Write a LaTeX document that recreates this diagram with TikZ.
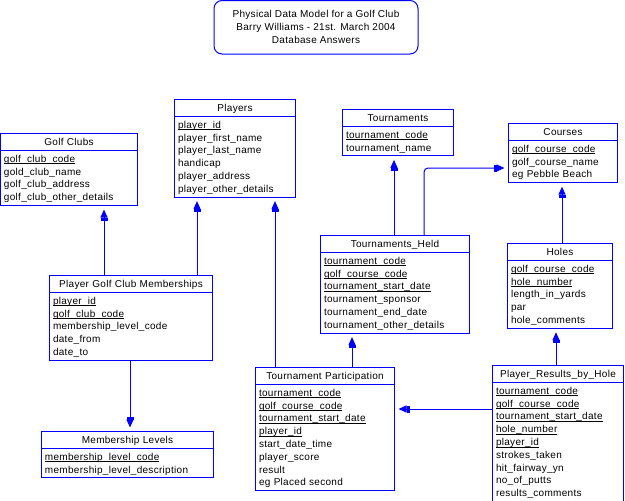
\documentclass[tikz,border=0pt]{standalone}
\usepackage{fontspec}
\setmainfont{Liberation Sans}[LetterSpace=3.0]
\usetikzlibrary{arrows.meta,shapes.multipart}
\definecolor{erblue}{RGB}{0,0,255}
%Zeilenhoehe der Tabellen
\newcommand{\rw}{\rule[-2.9pt]{0pt}{12.8pt}}
%Unterstreichung auf Hoehe der Unterstriche
\newsavebox{\pkbox}
\newcommand{\pk}[1]{\sbox{\pkbox}{#1}\rlap{\rule[-2pt]{\wd\pkbox}{0.8pt}}\usebox{\pkbox}}
\newcommand{\hd}[1]{\hfill\rw #1\hfill\rw}
\tikzset{
  entity/.style={rectangle split, rectangle split parts=2, draw=erblue, line width=1pt,
    anchor=north west, inner xsep=3.5pt, inner ysep=1.5pt, align=left,
    font=\fontsize{10}{12.8}\selectfont},
  fk/.style={draw=erblue, line width=1pt, shorten >=3.5pt,
    -{Rectangle[width=7pt,length=3pt]Triangle[width=7pt,length=8pt]}},
  titlebox/.style={draw=erblue, line width=1pt, rounded corners=8pt, align=center,
    minimum width=204pt, minimum height=53.5pt, font=\fontsize{10}{13}\selectfont}
}
\begin{document}
\begin{tikzpicture}[x=1pt,y=-1pt]
\useasboundingbox (0,0) rectangle (625,501);
\node[titlebox] (title) at (316,27.25) {Physical Data Model for a Golf Club\\Barry Williams - 21st. March 2004\\Database Answers};
%Tabellen
\node[entity, text width=130pt] (golfclubs) at (0,133) {\hd{Golf Clubs}
  \nodepart{two}\rw\pk{golf\_club\_code}\\\rw gold\_club\_name\\\rw golf\_club\_address\\\rw golf\_club\_other\_details};
\node[entity, text width=114pt] (players) at (174,99) {\hd{Players}
  \nodepart{two}\rw\pk{player\_id}\\\rw player\_first\_name\\\rw player\_last\_name\\\rw handicap\\\rw player\_address\\\rw player\_other\_details};
\node[entity, text width=104pt] (tournaments) at (342,109) {\hd{Tournaments}
  \nodepart{two}\rw\pk{tournament\_code}\\\rw tournament\_name};
\node[entity, text width=102pt] (courses) at (508,123) {\hd{Courses}
  \nodepart{two}\rw\pk{golf\_course\_code}\\\rw golf\_course\_name\\\rw eg Pebble Beach};
\node[entity, text width=142pt] (tournheld) at (320,235) {\hd{Tournaments\_Held}
  \nodepart{two}\rw\pk{tournament\_code}\\\rw\pk{golf\_course\_code}\\\rw\pk{tournament\_start\_date}\\\rw tournament\_sponsor\\\rw tournament\_end\_date\\\rw tournament\_other\_details};
\node[entity, text width=98pt] (holes) at (507,243) {\hd{Holes}
  \nodepart{two}\rw\pk{golf\_course\_code}\\\rw\pk{hole\_number}\\\rw length\_in\_yards\\\rw par\\\rw hole\_comments};
\node[entity, text width=156pt] (memberships) at (49,275) {\hd{Player Golf Club Memberships}
  \nodepart{two}\rw\pk{player\_id}\\\rw\pk{golf\_club\_code}\\\rw membership\_level\_code\\\rw date\_from\\\rw date\_to};
\node[entity, text width=165pt] (levels) at (41,431) {\hd{Membership Levels}
  \nodepart{two}\rw\pk{membership\_level\_code}\\\rw membership\_level\_description};
\node[entity, text width=132pt] (tournpart) at (255,367) {\hd{Tournament Participation}
  \nodepart{two}\rw\pk{tournament\_code}\\\rw\pk{golf\_course\_code}\\\rw\pk{tournament\_start\_date}\\\rw\pk{player\_id}\\\rw start\_date\_time\\\rw player\_score\\\rw result\\\rw eg Placed second};
\node[entity, text width=124pt] (results) at (492,365) {\hd{Player\_Results\_by\_Hole}
  \nodepart{two}\rw\pk{tournament\_code}\\\rw\pk{golf\_course\_code}\\\rw\pk{tournament\_start\_date}\\\rw\pk{hole\_number}\\\rw\pk{player\_id}\\\rw strokes\_taken\\\rw hit\_fairway\_yn\\\rw no\_of\_putts\\\rw results\_comments};
%Beziehungen
\draw[fk] (memberships.north -| 104,0) -- (golfclubs.south -| 104,0);
\draw[fk] (memberships.north -| 197,0) -- (players.south -| 197,0);
\draw[fk] (tournpart.north -| 275,0) -- (players.south -| 275,0);
\draw[fk] (memberships.south -| 130,0) -- (levels.north -| 130,0);
\draw[fk] (tournheld.north -| 394,0) -- (tournaments.south -| 394,0);
\draw[fk, rounded corners=4pt] (tournheld.north -| 424,0) |- (courses.west |- 0,168);
\draw[fk] (holes.north -| 562,0) -- (courses.south -| 562,0);
\draw[fk] (tournpart.north -| 352,0) -- (tournheld.south -| 352,0);
\draw[fk] (results.north -| 556,0) -- (holes.south -| 556,0);
\draw[fk] (results.west |- 0,409) -- (tournpart.east |- 0,409);
\end{tikzpicture}
\end{document}
